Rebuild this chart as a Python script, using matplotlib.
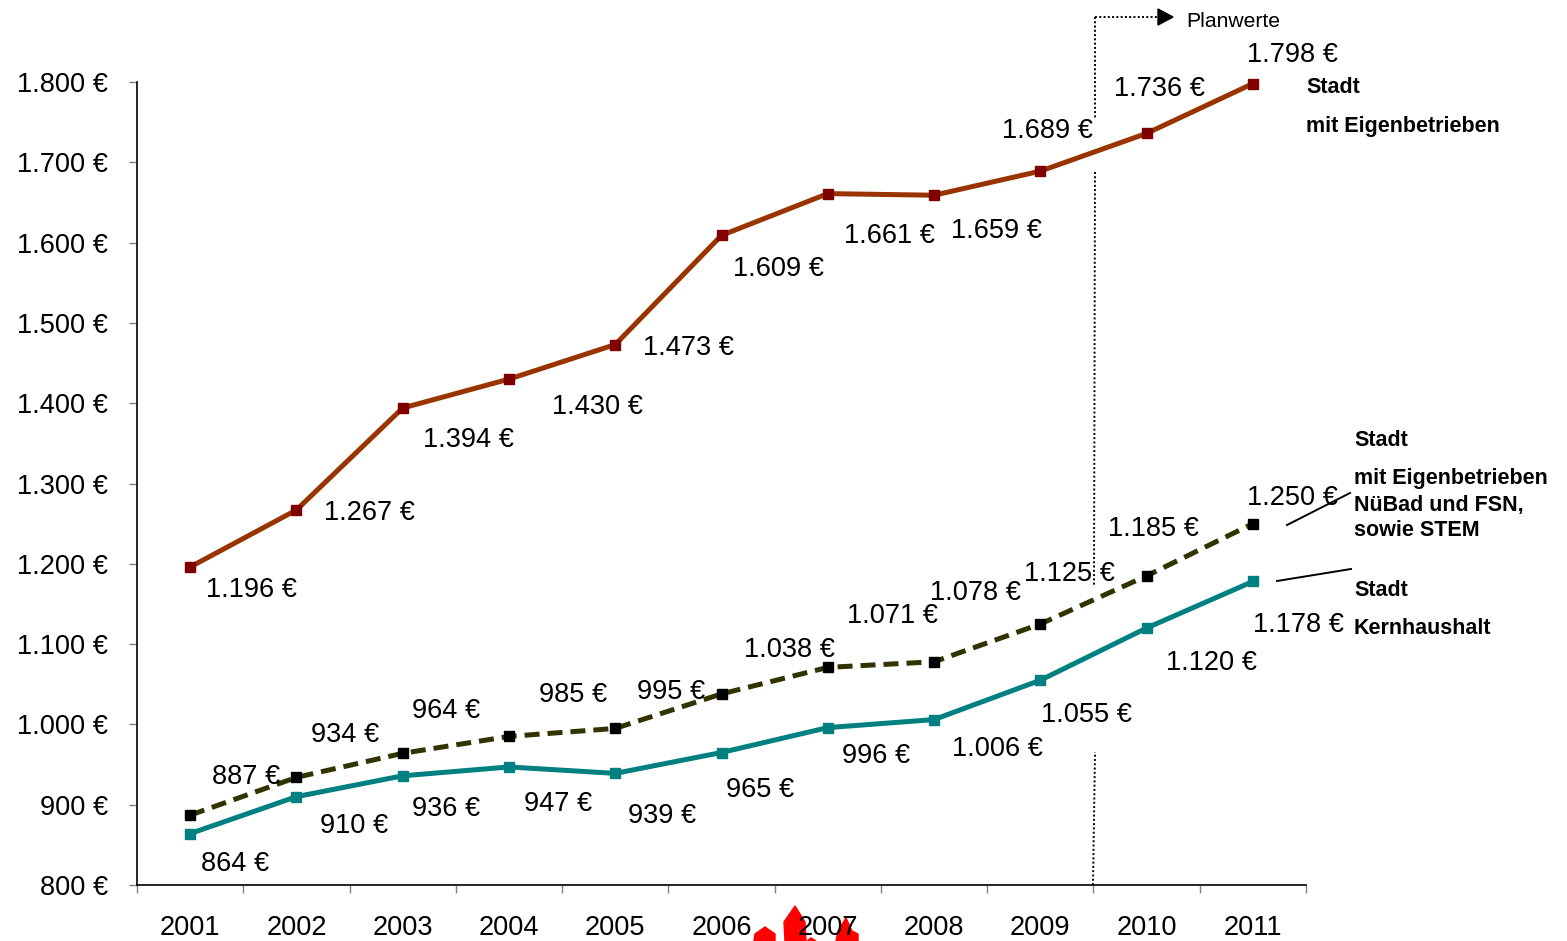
import matplotlib
matplotlib.use("Agg")
import matplotlib.pyplot as plt
from matplotlib.patches import Polygon

plt.rcParams['font.family'] = ['Liberation Sans', 'DejaVu Sans']
plt.rcParams['text.hinting'] = 'no_autohint'

years = ['2001', '2002', '2003', '2004', '2005', '2006', '2007', '2008', '2009', '2010', '2011']
mit_eigen = [1196, 1267, 1394, 1430, 1473, 1609, 1661, 1659, 1689, 1736, 1798]
mit_nuebad = [887, 934, 964, 985, 995, 1038, 1071, 1078, 1125, 1185, 1250]
kern = [864, 910, 936, 947, 939, 965, 996, 1006, 1055, 1120, 1178]
y_ticks = [800, 900, 1000, 1100, 1200, 1300, 1400, 1500, 1600, 1700, 1800]

# label offsets from the marker, in pixels
off_eigen = [(61, -23), (73, -3), (66, -32), (88, -28), (73, -3), (57, -34),
             (62, -42), (62, -36), (7, 40), (13, 44), (40, 29)]
off_nuebad = [(56, 38), (49, 42), (43, 42), (64, 41), (56, 36), (68, 44),
              (65, 51), (41, 69), (29, 50), (7, 47), (40, 26)]
off_kern = [(45, -30), (58, -29), (43, -33), (49, -37), (47, -43), (39, -37),
            (48, -28), (63, -29), (46, -35), (65, -35), (46, -44)]

W, H = 1567, 941


def euro(v):
    # deutsche Schreibweise mit Tausenderpunkt
    return f"{v:,}".replace(",", ".") + " €"


fig = plt.figure(figsize=(W / 100, H / 100), dpi=100)
ax = fig.add_axes([137 / W, (H - 885) / H, 1169 / W, 803 / H])
ax.set_xlim(-0.5, 10.5)
ax.set_ylim(800, 1800)

for s in ['top', 'right']:
    ax.spines[s].set_visible(False)
for s in ['left', 'bottom']:
    ax.spines[s].set_linewidth(1.2)

ax.set_yticks(y_ticks)
ax.set_yticklabels([euro(v) for v in y_ticks], fontsize=19.6)
ax.tick_params(axis='y', length=6, width=1, color='#808080', pad=15)
ax.set_xticks([i - 0.5 for i in range(12)])
ax.set_xticklabels([])
ax.tick_params(axis='x', length=6, width=1, color='#808080')
for i, y in enumerate(years):
    ax.annotate(y, (i, 800), xytext=(0, -43), textcoords='offset pixels',
                ha='center', va='center', fontsize=19.6, annotation_clip=False)

x = list(range(len(years)))
ax.plot(x, mit_eigen, color='#993300', lw=3.6, zorder=3, clip_on=False)
ax.plot(x, mit_eigen, ls='none', marker='s', ms=6.5, color='#800000', zorder=4, clip_on=False)
ax.plot(x, mit_nuebad, color='#333300', lw=3.6, dashes=(3, 1.6), zorder=3)
ax.plot(x, mit_nuebad, ls='none', marker='s', ms=6.5, color='black', zorder=4)
ax.plot(x, kern, color='#008080', lw=3.6, zorder=3)
ax.plot(x, kern, ls='none', marker='s', ms=6.5, color='#008080', zorder=4)

for vals, offs in [(mit_eigen, off_eigen), (mit_nuebad, off_nuebad), (kern, off_kern)]:
    for i, v in enumerate(vals):
        ax.annotate(euro(v), (i, v), xytext=offs[i], textcoords='offset pixels',
                    ha='center', va='center', fontsize=19.6, color='black',
                    annotation_clip=False, zorder=5)

# overlay in Pixelkoordinaten fuer Beschriftung, Linien und rote Reste
ov = fig.add_axes([0, 0, 1, 1], facecolor='none')
ov.set_xlim(0, W)
ov.set_ylim(H, 0)
ov.axis('off')

dot = dict(color='black', lw=1.4, ls=(0, (1, 1.2)))
ov.plot([1095, 1095], [17, 118], **dot)
ov.plot([1095, 1160], [17, 17], **dot)
ov.plot([1095, 1094], [172, 587], **dot)
ov.plot([1093, 1095], [885, 752], **dot)
ov.add_patch(Polygon([(1158, 9), (1173, 17), (1158, 25)], color='black'))
ov.text(1186, 21, 'Planwerte', fontsize=15.2, va='center')

notes = [(1306, 87, 'Stadt'), (1306, 126, 'mit Eigenbetrieben'),
         (1354, 440, 'Stadt'), (1354, 478, 'mit Eigenbetrieben'),
         (1354, 505, 'NüBad und FSN,'), (1354, 530, 'sowie STEM'),
         (1354, 590, 'Stadt'), (1354, 628, 'Kernhaushalt')]
for nx, ny, t in notes:
    ov.text(nx, ny, t, fontsize=15.5, fontweight='bold', va='center')

ov.plot([1287, 1350], [525, 493], color='black', lw=1.4)
ov.plot([1277, 1351], [581, 569], color='black', lw=1.4)

# rote Form unter der Achse
red_shapes = [
    [(754, 941), (755, 934), (765, 927), (775, 934), (775, 941)],
    [(785, 941), (784, 922), (795, 906), (805, 922), (806, 941)],
    [(836, 941), (838, 931), (846, 918), (852, 931), (858, 934), (858, 941)],
    [(807, 941), (811, 938), (816, 941)],
]
for pts in red_shapes:
    ov.add_patch(Polygon(pts, color='#ff0000', zorder=1))
ax.set_zorder(ov.get_zorder() + 1)
ax.patch.set_visible(False)

fig.savefig('out.png', dpi=100)
